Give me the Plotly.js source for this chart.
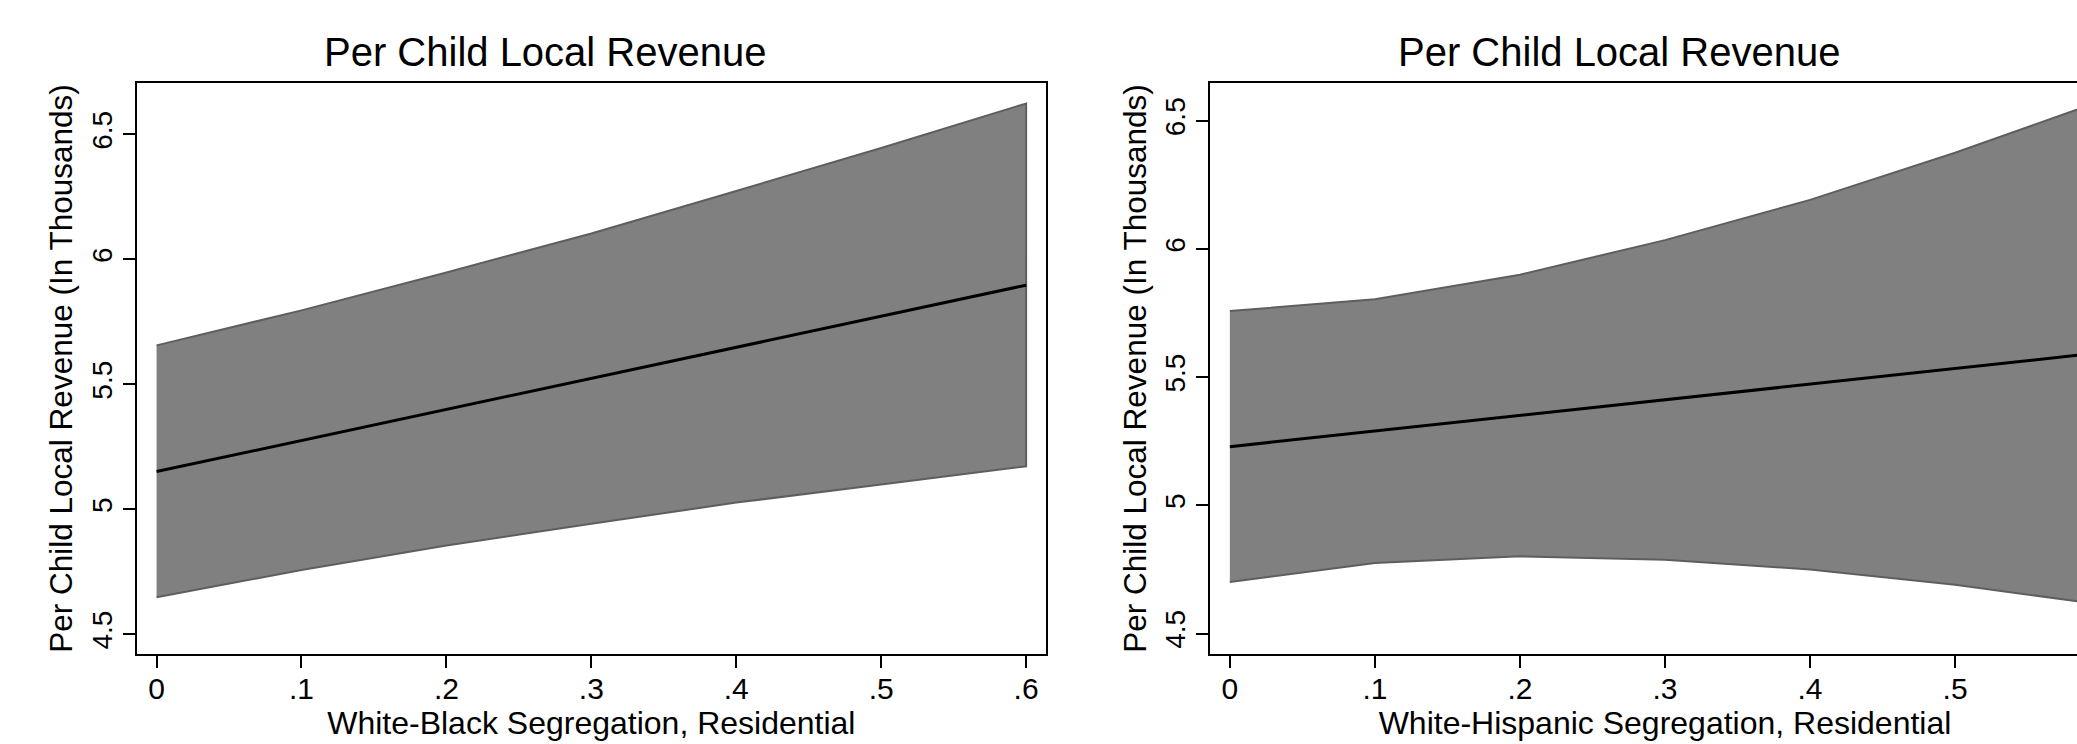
<!DOCTYPE html>
<html>
<head>
<meta charset="utf-8">
<script src="https://cdn.plot.ly/plotly-3.0.1.min.js"></script>
<style>
  html, body { margin: 0; padding: 0; background: #ffffff; overflow: hidden; }
  #chart { width: 2130px; height: 744px; }
</style>
</head>
<body>
<div id="chart"></div>
<script>
// ---- data ----
const segLevels = [0, 0.1, 0.2, 0.3, 0.4, 0.5, 0.6];

const blackFit   = [5.151, 5.275, 5.400, 5.524, 5.648, 5.773, 5.897];
const blackUpper = [5.656, 5.796, 5.948, 6.104, 6.274, 6.446, 6.624];
const blackLower = [4.648, 4.757, 4.855, 4.942, 5.027, 5.099, 5.172];

const hispFit    = [5.229, 5.290, 5.351, 5.412, 5.473, 5.534, 5.595];
const hispUpper  = [5.758, 5.804, 5.900, 6.035, 6.192, 6.376, 6.576];
const hispLower  = [4.701, 4.775, 4.801, 4.788, 4.750, 4.690, 4.614];

const xTickVals = [0, 0.1, 0.2, 0.3, 0.4, 0.5, 0.6];
const xTickText = ["0", ".1", ".2", ".3", ".4", ".5", ".6"];
const yTickVals = [4.5, 5, 5.5, 6, 6.5];
const yTickText = ["4.5", "5", "5.5", "6", "6.5"];

const panelTitle = "Per Child Local Revenue";
const yTitle = "Per Child Local Revenue (In Thousands)";
const xTitles = ["White-Black Segregation, Residential", "White-Hispanic Segregation, Residential"];

// ---- build traces ----
function band(xs, lo, hi, xa, ya) {
  return {
    x: xs.concat(xs.slice().reverse()),
    y: hi.concat(lo.slice().reverse()),
    xaxis: xa, yaxis: ya,
    type: 'scatter', mode: 'lines',
    fill: 'toself', fillcolor: '#808080',
    line: { color: '#5e5e5e', width: 2 },
    hoverinfo: 'skip', showlegend: false
  };
}
function fitLine(xs, ys, xa, ya) {
  return {
    x: xs, y: ys, xaxis: xa, yaxis: ya,
    type: 'scatter', mode: 'lines',
    line: { color: '#000000', width: 3 },
    showlegend: false
  };
}

const traces = [
  band(segLevels, blackLower, blackUpper, 'x', 'y'),
  fitLine(segLevels, blackFit, 'x', 'y'),
  band(segLevels, hispLower, hispUpper, 'x2', 'y2'),
  fitLine(segLevels, hispFit, 'x2', 'y2')
];

const W = 2130, H = 744;
const FONT = 'Liberation Sans, Arial, Helvetica, sans-serif';

function xAxis(domain, title, anchor) {
  return {
    domain: domain, anchor: anchor,
    range: [-0.0137, 0.6137],
    tickmode: 'array', tickvals: xTickVals, ticktext: xTickText,
    ticks: 'outside', ticklen: 12, tickwidth: 2, tickcolor: '#000',
    ticklabelstandoff: -5,
    showline: true, mirror: true, linecolor: '#000', linewidth: 2,
    showgrid: false, zeroline: false,
    tickfont: { family: FONT, size: 30, color: '#000' },
    title: { text: title, font: { family: FONT, size: 32, color: '#000' }, standoff: 3 },
    automargin: false
  };
}
function yAxis(domain, range, anchor) {
  return {
    domain: domain, anchor: anchor,
    range: range,
    tickmode: 'array', tickvals: yTickVals, ticktext: yTickText,
    ticks: 'outside', ticklen: 12, tickwidth: 2, tickcolor: '#000',
    tickangle: -90,
    showline: true, mirror: true, linecolor: '#000', linewidth: 2,
    showgrid: false, zeroline: false,
    tickfont: { family: FONT, size: 28, color: '#000' },
    title: { text: yTitle, font: { family: FONT, size: 31.5, color: '#000' }, standoff: 4 },
    automargin: false
  };
}

const yDom = [(H - 654) / H, (H - 83) / H];

const layout = {
  width: W, height: H,
  margin: { l: 0, r: 0, t: 0, b: 0, pad: 0 },
  paper_bgcolor: '#ffffff', plot_bgcolor: '#ffffff',
  font: { family: FONT, color: '#000' },
  showlegend: false,
  xaxis: xAxis([136.7 / W, 1046 / W], xTitles[0], 'y'),
  yaxis: yAxis(yDom, [4.421, 6.706], 'x'),
  xaxis2: xAxis([1210 / W, 2120 / W], xTitles[1], 'y2'),
  yaxis2: yAxis(yDom, [4.42, 6.648], 'x2'),
  annotations: [
    { text: panelTitle, xref: 'paper', yref: 'paper', x: 545 / W, y: (H - 52) / H,
      xanchor: 'center', yanchor: 'middle', showarrow: false,
      font: { family: FONT, size: 40, color: '#000' } },
    { text: panelTitle, xref: 'paper', yref: 'paper', x: 1618.5 / W, y: (H - 52) / H,
      xanchor: 'center', yanchor: 'middle', showarrow: false,
      font: { family: FONT, size: 40, color: '#000' } }
  ]
};

Plotly.newPlot('chart', traces, layout, { staticPlot: true, displayModeBar: false });
</script>
</body>
</html>
